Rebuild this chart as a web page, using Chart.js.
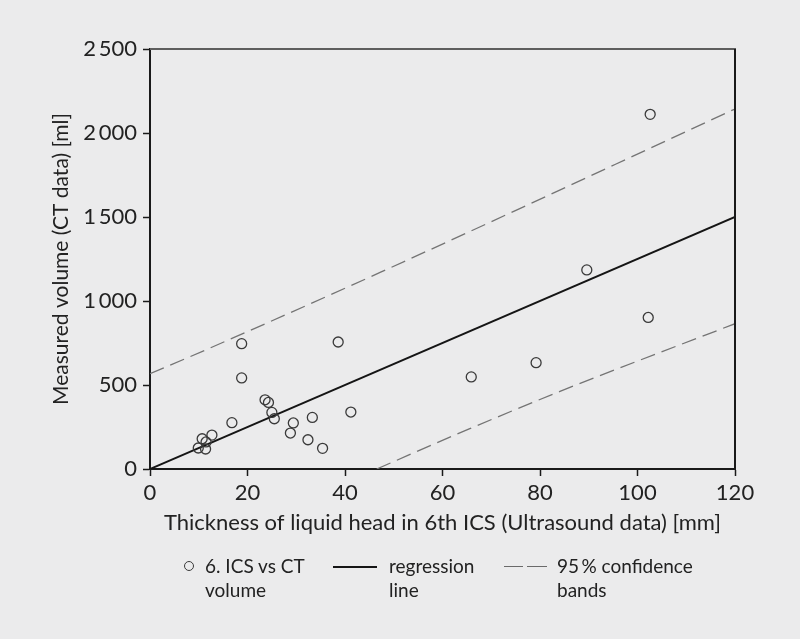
<!DOCTYPE html>
<html><head><meta charset="utf-8">
<script src="https://cdn.jsdelivr.net/npm/chart.js@4"></script>
<style>
html,body{margin:0;padding:0;background:#ebebec;}
#wrap{position:relative;width:800px;height:639px;overflow:hidden;}
#c{position:absolute;left:0;top:0;}
.lt{position:absolute;font-family:Lato,"Open Sans",sans-serif;font-size:19px;color:#222;line-height:24px;white-space:nowrap;}
.mk{position:absolute;}
</style></head><body>
<div id="wrap"><canvas id="c" width="800" height="639"></canvas><div id="legend"></div></div>
<script>
// ---- data ----
const thicknessMm = [102.6, 89.6, 102.2, 79.2, 65.9, 38.6, 18.8, 18.8, 23.6, 24.3, 25.0, 25.5, 16.8, 29.4, 33.3, 41.2, 28.8, 32.4, 35.4, 12.7, 10.7, 11.5, 9.9, 11.4];
const ctVolumeMl  = [2111, 1185, 902, 633, 548, 756, 746, 542, 412, 396, 337, 299, 276, 274, 307, 339, 214, 174, 123, 202, 180, 161, 125, 119];
const regressionX = [0, 120];
const regressionY = [0, 1500];
const upperBandX = [0, 11.6, 47.2, 120];
const upperBandY = [567, 711, 1170, 2143];
const lowerBandX = [46.5, 65.6, 84.1, 120];
const lowerBandY = [0, 240, 462, 865];
const xTicks = [0, 20, 40, 60, 80, 100, 120];
const yTicks = [0, 500, 1000, 1500, 2000, 2500];
const yTickLabels = ['0', '500', '1\u2009000', '1\u2009500', '2\u2009000', '2\u2009500'];
const xTitle = 'Thickness of liquid head in 6th ICS (Ultrasound data) [mm]';
const yTitle = 'Measured volume (CT data) [ml]';
const legendLabels = [['6. ICS vs CT', 'volume'], ['regression', 'line'], ['95\u2009% confidence', 'bands']];

const pts = (xs, ys) => xs.map((x, i) => ({x: x, y: ys[i]}));
const FONT = 'Lato';

// ---- legend (HTML, real text) ----
const lg = document.getElementById('legend');
function add(html){ lg.insertAdjacentHTML('beforeend', html); }
add('<div class="mk" style="left:184px;top:561px;width:8px;height:8px;border:1.4px solid #3a3a3a;border-radius:50%"></div>');
add('<div class="lt" style="left:205px;top:554px">' + legendLabels[0].join('<br>') + '</div>');
add('<div class="mk" style="left:333px;top:566px;width:44px;border-top:2px solid #151515"></div>');
add('<div class="lt" style="left:389px;top:554px">' + legendLabels[1].join('<br>') + '</div>');
add('<div class="mk" style="left:504px;top:566px;width:19px;border-top:1.5px solid #6a6a6a"></div>');
add('<div class="mk" style="left:527px;top:566px;width:20px;border-top:1.5px solid #6a6a6a"></div>');
add('<div class="lt" style="left:557px;top:554px">' + legendLabels[2].join('<br>') + '</div>');

const frame = {
  id: 'frame',
  afterDatasetsDraw(chart) {
    const {ctx, chartArea: a} = chart;
    ctx.save();
    ctx.lineCap = 'butt';
    ctx.strokeStyle = '#5e5e5e'; ctx.lineWidth = 2;
    ctx.beginPath(); ctx.moveTo(a.left, a.top); ctx.lineTo(a.right + 1, a.top); ctx.stroke();
    ctx.strokeStyle = '#1a1a1a'; ctx.lineWidth = 2;
    ctx.beginPath(); ctx.moveTo(a.right, a.top); ctx.lineTo(a.right, a.bottom); ctx.stroke();
    ctx.restore();
  }
};

new Chart(document.getElementById('c'), {
  type: 'scatter',
  data: {
    datasets: [
      { data: pts(thicknessMm, ctVolumeMl), showLine: false, pointStyle: 'circle', pointRadius: 5,
        pointBorderWidth: 1.3, pointBorderColor: '#3a3a3a', pointBackgroundColor: 'rgba(0,0,0,0)', order: 0 },
      { data: pts(regressionX, regressionY), showLine: true, pointRadius: 0, borderColor: '#151515', borderWidth: 2, order: 1 },
      { data: pts(upperBandX, upperBandY), showLine: true, pointRadius: 0, borderColor: '#747474', borderWidth: 1.3,
        borderDash: [15, 7], cubicInterpolationMode: 'monotone', order: 2 },
      { data: pts(lowerBandX, lowerBandY), showLine: true, pointRadius: 0, borderColor: '#747474', borderWidth: 1.3,
        borderDash: [15, 7], cubicInterpolationMode: 'monotone', order: 2 }
    ]
  },
  options: {
    responsive: false, animation: false, devicePixelRatio: 1,
    layout: { padding: { top: 49, right: 65, left: 0, bottom: 0 } },
    plugins: { legend: { display: false }, tooltip: { enabled: false } },
    scales: {
      x: {
        type: 'linear', min: 0, max: 120,
        afterBuildTicks: s => { s.ticks = xTicks.map(v => ({value: v})); },
        afterFit: s => { s.height = 170; },
        ticks: { color: '#222', font: { family: FONT, size: 22 }, padding: 4, maxRotation: 0 },
        grid: { drawOnChartArea: false, drawTicks: true, tickLength: 7, tickColor: '#1a1a1a', tickWidth: 1.5 },
        border: { display: true, color: '#1a1a1a', width: 2 },
        title: { display: true, text: xTitle, color: '#222', font: { family: FONT, size: 22 }, padding: { top: 0, bottom: 103 } }
      },
      y: {
        type: 'linear', min: 0, max: 2500,
        afterBuildTicks: s => { s.ticks = yTicks.map(v => ({value: v})); },
        afterFit: s => { s.width = 150; },
        ticks: { color: '#222', font: { family: FONT, size: 22 }, padding: 6,
                 callback: v => yTickLabels[yTicks.indexOf(v)] },
        grid: { drawOnChartArea: false, drawTicks: true, tickLength: 7, tickColor: '#1a1a1a', tickWidth: 1.5 },
        border: { display: true, color: '#1a1a1a', width: 2 },
        title: { display: true, text: yTitle, color: '#222', font: { family: FONT, size: 21 }, padding: { top: 49, bottom: 0 } }
      }
    }
  },
  plugins: [frame]
});
</script>
</body></html>
